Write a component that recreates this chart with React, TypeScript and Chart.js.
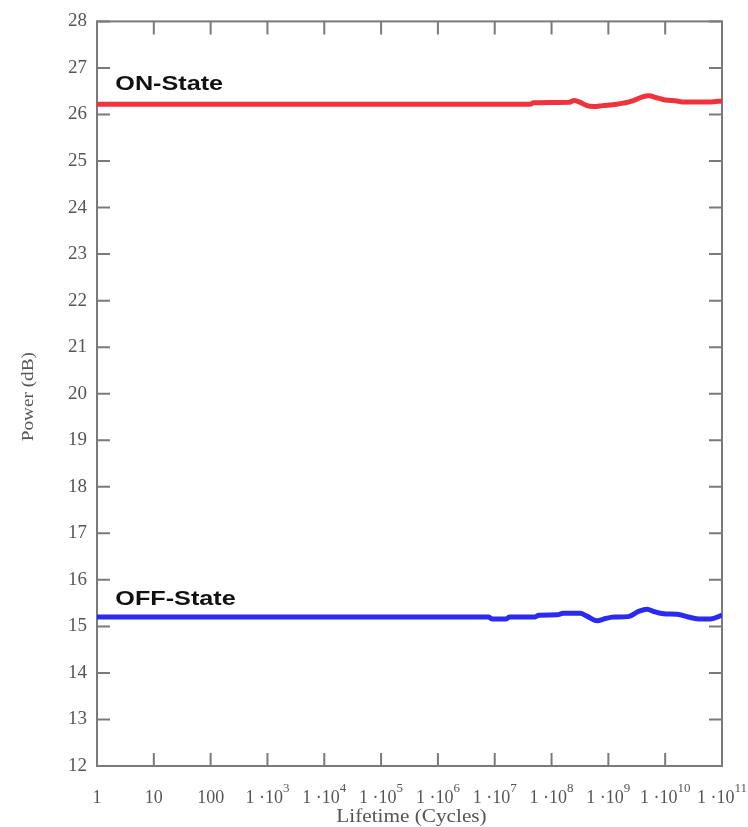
import { useEffect, useRef } from 'react';
import { Chart, registerables } from 'chart.js';

Chart.register(...registerables);

// ON-state power over lifetime (cycles, dB)
const onCycles = [1, 4.2e7, 4.8e7, 2.0e8, 2.5e8, 3.2e8, 4.2e8, 5.6e8, 7.9e8, 1.4e9, 2.5e9, 4.0e9, 5.2e9, 7.1e9, 1e10, 1.6e10, 2.0e10, 6.3e10, 1e11];
const onPower = [26.22, 26.22, 26.25, 26.26, 26.3, 26.26, 26.19, 26.17, 26.19, 26.22, 26.28, 26.38, 26.4, 26.36, 26.31, 26.29, 26.27, 26.27, 26.29];

// OFF-state power over lifetime (cycles, dB)
const offCycles = [1, 7.9e6, 8.9e6, 1.6e7, 1.8e7, 5.0e7, 6.0e7, 1.26e8, 1.6e8, 3.2e8, 4.2e8, 6.3e8, 8.9e8, 1.26e9, 2.2e9, 3.5e9, 4.8e9, 6.3e9, 9.5e9, 1.6e10, 2.8e10, 4.0e10, 6.3e10, 1e11];
const offPower = [15.2, 15.2, 15.16, 15.16, 15.2, 15.2, 15.24, 15.25, 15.28, 15.28, 15.22, 15.12, 15.17, 15.2, 15.21, 15.33, 15.37, 15.32, 15.27, 15.26, 15.19, 15.16, 15.16, 15.24];

// Axis ticks
const yTickValues = [12, 13, 14, 15, 16, 17, 18, 19, 20, 21, 22, 23, 24, 25, 26, 27, 28];
const xTickExponents = [0, 1, 2, 3, 4, 5, 6, 7, 8, 9, 10, 11];

// Series annotations: text, cycles, power
const seriesNames = ['ON-State', 'OFF-State'];
const seriesLabelCycles = [2.1, 2.1];
const seriesLabelPower = [26.52, 15.45];

const xTitle = 'Lifetime (Cycles)';
const yTitle = 'Power (dB)';

const SERIF = "'Liberation Serif', 'Times New Roman', serif";
const SANS = "'Liberation Sans', Arial, sans-serif";
const AXIS_GREY = '#7a7a7a';
const TEXT_GREY = '#555555';

const framePlugin = {
  id: 'frameAndLabels',
  beforeDatasetsDraw(chart: any) {
    const { ctx, chartArea, scales } = chart;
    const { left, right, top, bottom } = chartArea;
    const x = scales.x;
    const y = scales.y;
    const tick = 13;
    ctx.save();
    ctx.strokeStyle = AXIS_GREY;
    ctx.lineWidth = 2;
    ctx.strokeRect(left, top, right - left, bottom - top);
    ctx.beginPath();
    yTickValues.forEach((v) => {
      const py = y.getPixelForValue(v);
      ctx.moveTo(left, py);
      ctx.lineTo(left + tick, py);
      ctx.moveTo(right, py);
      ctx.lineTo(right - tick, py);
    });
    xTickExponents.forEach((e) => {
      const px = x.getPixelForValue(Math.pow(10, e));
      ctx.moveTo(px, bottom);
      ctx.lineTo(px, bottom - tick);
      ctx.moveTo(px, top);
      ctx.lineTo(px, top + tick);
    });
    ctx.stroke();

    // x tick labels with raised exponents
    ctx.fillStyle = TEXT_GREY;
    ctx.textBaseline = 'alphabetic';
    ctx.textAlign = 'left';
    const base = bottom + 37;
    const mainFont = `18px ${SERIF}`;
    const supFont = `13px ${SERIF}`;
    xTickExponents.forEach((e) => {
      const px = x.getPixelForValue(Math.pow(10, e));
      let main: string;
      let sup = '';
      if (e === 0) main = '1';
      else if (e === 1) main = '10';
      else if (e === 2) main = '100';
      else {
        main = '1 \u00b710';
        sup = String(e);
      }
      ctx.font = mainFont;
      const wMain = ctx.measureText(main).width;
      ctx.font = supFont;
      const wSup = sup ? ctx.measureText(sup).width : 0;
      const start = px - (wMain + wSup) / 2;
      ctx.font = mainFont;
      ctx.fillText(main, start, base);
      if (sup) {
        ctx.font = supFont;
        ctx.fillText(sup, start + wMain, base - 11);
      }
    });

    // axis titles
    ctx.font = `18px ${SERIF}`;
    ctx.textAlign = 'center';
    ctx.save();
    ctx.translate((left + right) / 2 + 2, bottom + 56);
    ctx.scale(1.18, 1);
    ctx.fillText(xTitle, 0, 0);
    ctx.restore();
    ctx.save();
    ctx.font = `17px ${SERIF}`;
    ctx.translate(33, (top + bottom) / 2 + 3);
    ctx.rotate(-Math.PI / 2);
    ctx.scale(1.13, 1);
    ctx.fillText(yTitle, 0, 0);
    ctx.restore();

    // series annotations
    ctx.fillStyle = '#111111';
    ctx.font = `bold 21px ${SANS}`;
    ctx.textAlign = 'left';
    seriesNames.forEach((name, i) => {
      const px = x.getPixelForValue(seriesLabelCycles[i]);
      const py = y.getPixelForValue(seriesLabelPower[i]);
      ctx.save();
      ctx.translate(px, py);
      ctx.scale(1.2, 1);
      ctx.fillText(name, 0, 0);
      ctx.restore();
    });
    ctx.restore();
  },
};

export default function App() {
  const canvasRef = useRef<HTMLCanvasElement | null>(null);

  useEffect(() => {
    if (!canvasRef.current) return;
    const chart = new Chart(canvasRef.current, {
      type: 'line',
      data: {
        datasets: [
          {
            label: seriesNames[0],
            data: onCycles.map((c, i) => ({ x: c, y: onPower[i] })),
            borderColor: '#f0323c',
            borderWidth: 5,
            pointRadius: 0,
            cubicInterpolationMode: 'monotone',
            fill: false,
          },
          {
            label: seriesNames[1],
            data: offCycles.map((c, i) => ({ x: c, y: offPower[i] })),
            borderColor: '#2b2bef',
            borderWidth: 5,
            pointRadius: 0,
            cubicInterpolationMode: 'monotone',
            fill: false,
          },
        ],
      },
      options: {
        animation: false,
        responsive: true,
        maintainAspectRatio: false,
        layout: { padding: { top: 19, right: 26, left: 0, bottom: 0 } },
        plugins: { legend: { display: false }, tooltip: { enabled: false } },
        scales: {
          x: {
            type: 'logarithmic',
            min: 1,
            max: 1e11,
            grid: { display: false, drawTicks: false },
            border: { display: false },
            ticks: { display: false },
            afterBuildTicks: (scale: any) => {
              scale.ticks = xTickExponents.map((e) => ({ value: Math.pow(10, e) }));
            },
            afterFit: (scale: any) => {
              scale.height = 61;
            },
          },
          y: {
            type: 'linear',
            min: 12,
            max: 28,
            grid: { display: false, drawTicks: false },
            border: { display: false },
            ticks: {
              stepSize: 1,
              padding: 10,
              color: TEXT_GREY,
              font: { family: SERIF, size: 19 },
            },
            afterBuildTicks: (scale: any) => {
              scale.ticks = yTickValues.map((v) => ({ value: v }));
            },
            afterFit: (scale: any) => {
              scale.width = 97;
            },
          },
        },
      },
      plugins: [framePlugin],
    } as any);
    return () => chart.destroy();
  }, []);

  return (
    <div style={{ position: 'absolute', left: 0, top: 0, width: 748, height: 827, background: '#ffffff' }}>
      <canvas ref={canvasRef} />
    </div>
  );
}
